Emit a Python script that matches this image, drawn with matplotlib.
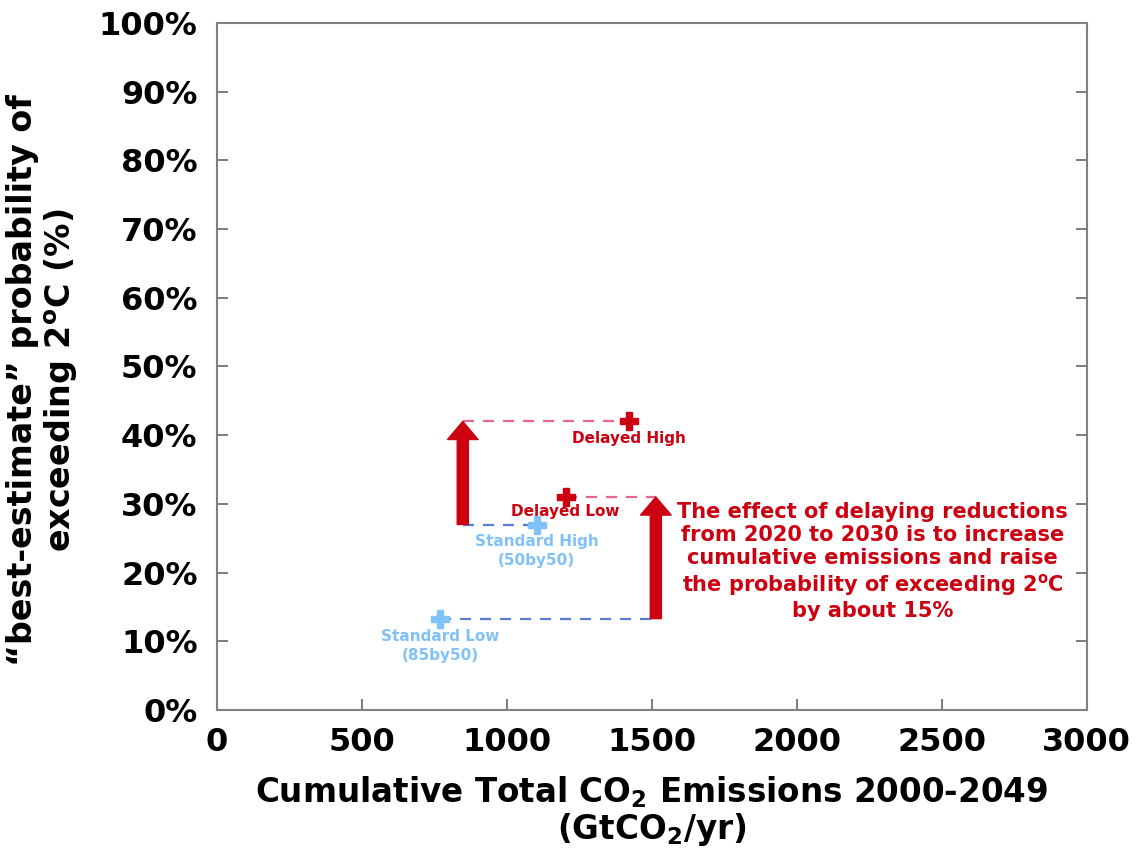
import matplotlib.pyplot as plt

# scenario points: cumulative emissions (GtCO2) and probability of exceeding 2C (%)
names = ['Standard Low\n(85by50)', 'Standard High\n(50by50)', 'Delayed Low', 'Delayed High']
emissions = [770, 1103, 1203, 1420]
prob = [13.3, 27.0, 31.0, 42.0]

# the two arrows showing the effect of the delay
arrow_x = [848, 1514]
arrow_from = [27.0, 13.3]
arrow_to = [42.0, 31.0]

xticks = [0, 500, 1000, 1500, 2000, 2500, 3000]
yticks = [0, 10, 20, 30, 40, 50, 60, 70, 80, 90, 100]

red = '#CC0010'
light_blue = '#80C2F7'
blue_dash = '#5A7BD0'
pink_dash = '#E8668C'

fig = plt.figure(figsize=(11.39, 8.5), dpi=100)
ax = fig.add_axes([0.1905, 0.1647, 0.7635, 0.8083])

# dashed guide lines from each point to its arrow
ax.plot([emissions[0], arrow_x[1]], [prob[0], prob[0]], ls=(0, (5, 4)), color=blue_dash, lw=1.6)
ax.plot([arrow_x[0], emissions[1]], [prob[1], prob[1]], ls=(0, (5, 4)), color=blue_dash, lw=1.6)
ax.plot([emissions[2], arrow_x[1]], [prob[2], prob[2]], ls=(0, (5, 4)), color=pink_dash, lw=1.6)
ax.plot([arrow_x[0], emissions[3]], [prob[3], prob[3]], ls=(0, (5, 4)), color=pink_dash, lw=1.6)

for xa, y0, y1 in zip(arrow_x, arrow_from, arrow_to):
    ax.annotate('', xy=(xa, y1), xytext=(xa, y0),
                arrowprops=dict(arrowstyle='simple,head_width=1.1,head_length=0.65,tail_width=0.4',
                                color=red, shrinkA=0, shrinkB=0, mutation_scale=20))

colors = [light_blue, light_blue, red, red]
for x, y, c in zip(emissions, prob, colors):
    ax.plot(x, y, marker='P', ms=13, color=c, mec=c, zorder=5)

# point labels
ax.text(emissions[0], prob[0] - 1.5, names[0], color=light_blue, fontsize=11, fontweight='bold',
        ha='center', va='top', linespacing=1.3)
ax.text(emissions[1], prob[1] - 1.4, names[1], color=light_blue, fontsize=11, fontweight='bold',
        ha='center', va='top', linespacing=1.3)
ax.text(emissions[2], prob[2] - 1.0, names[2], color=red, fontsize=11, fontweight='bold',
        ha='center', va='top')
ax.text(emissions[3], prob[3] - 1.4, names[3], color=red, fontsize=11, fontweight='bold',
        ha='center', va='top')

ax.text(2262, 21.6,
        'The effect of delaying reductions\nfrom 2020 to 2030 is to increase\n'
        'cumulative emissions and raise\nthe probability of exceeding 2$^{\\mathregular{o}}$C\nby about 15%',
        color=red, fontsize=15, fontweight='bold', ha='center', va='center', linespacing=1.2)

ax.set_xlim(0, 3000)
ax.set_ylim(0, 100)
ax.set_xticks(xticks)
ax.set_yticks(yticks)
ax.set_xticklabels([str(v) for v in xticks], fontsize=23, fontweight='bold')
ax.set_yticklabels([f'{v}%' for v in yticks], fontsize=23, fontweight='bold')
ax.tick_params(direction='in', length=8, width=1.2, color='#666666', right=True, pad=12)
ax.tick_params(axis='y', pad=14)
for s in ax.spines.values():
    s.set_color('#808080')
    s.set_linewidth(1.5)

ax.set_xlabel('Cumulative Total CO$_{\\mathregular{2}}$ Emissions 2000-2049\n(GtCO$_{\\mathregular{2}}$/yr)',
              fontsize=23.5, fontweight='bold', labelpad=12, linespacing=1.05)
ax.set_ylabel('\u201cbest-estimate\u201d probability of\nexceeding 2$^{\\mathregular{o}}$C (%)',
              fontsize=24, fontweight='bold', linespacing=1.15)
ax.yaxis.set_label_coords(-0.157, 0.48)

fig.savefig('out.png', dpi=100)
